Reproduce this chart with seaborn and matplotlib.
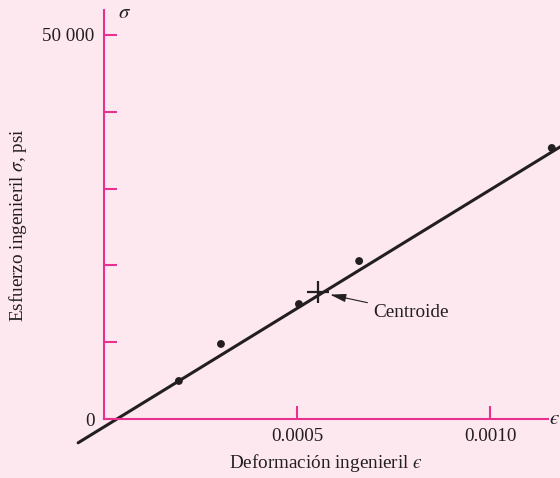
import matplotlib
matplotlib.use("Agg")
import matplotlib.pyplot as plt
import seaborn as sns
import pandas as pd

# strain / stress readings (psi)
strain = [0.000194, 0.000303, 0.000505, 0.000661, 0.00116]
stress = [4950, 9770, 14970, 20570, 35290]

# least-squares line, drawn past both ends
fit_strain = [-0.000067, 0.00120]
fit_stress = [-3100, 36000]

centroid_strain = [0.000554]
centroid_stress = [16540]

y_ticks = [0, 10000, 20000, 30000, 40000, 50000]
y_tick_labels = ["0", "", "", "", "", "50 000"]
x_ticks = [0.0005, 0.0010]
x_tick_labels = ["0.0005", "0.0010"]

BG = "#fde8f0"
AXIS = "#e8308f"
INK = "#231f20"
FS = 13.8

sns.set_theme(style="white")
plt.rcParams["font.family"] = ["Liberation Serif", "DejaVu Serif"]
plt.rcParams["mathtext.fontset"] = "stix"
plt.rcParams["text.color"] = INK

df = pd.DataFrame({"strain": strain, "stress": stress})
fit = pd.DataFrame({"strain": fit_strain, "stress": fit_stress})

fig = plt.figure(figsize=(5.6, 4.78), dpi=100, facecolor=BG)
ax = fig.add_axes([0, 0, 1, 1], facecolor=BG)

sns.lineplot(data=fit, x="strain", y="stress", color=INK, lw=2.2, sort=False, ax=ax)
sns.scatterplot(data=df, x="strain", y="stress", color=INK, s=32, edgecolor="none", ax=ax, zorder=3)
ax.plot(centroid_strain, centroid_stress, marker="+", ms=16, mew=1.6, color=INK, ls="none", zorder=4)

ax.annotate("Centroide", xy=(centroid_strain[0], centroid_stress[0]),
            xytext=(40, -14.5), textcoords="offset points",
            ha="left", va="center", fontsize=FS, color=INK,
            arrowprops=dict(arrowstyle="-|>,head_length=0.7,head_width=0.18",
                            color=INK, lw=0.8, shrinkA=2, shrinkB=9))

# pixel layout: origin at (104, 419), 0.0005 per 193 px, 10 000 per 76.8 px
ax.set_xlim(-0.0002694, 0.0011813)
ax.set_ylim(-7682, 54557)

for side in ("top", "right"):
    ax.spines[side].set_visible(False)
for side in ("left", "bottom"):
    ax.spines[side].set_position(("data", 0))
    ax.spines[side].set_color(AXIS)
    ax.spines[side].set_linewidth(1.5)
ax.spines["left"].set_bounds(0, 53250)
ax.spines["bottom"].set_bounds(0, 0.00115)

ax.set_yticks(y_ticks)
ax.set_yticklabels(y_tick_labels)
ax.set_xticks(x_ticks)
ax.set_xticklabels(x_tick_labels)
ax.tick_params(axis="both", direction="in", length=9.5, width=1.5, color=AXIS,
               labelsize=FS, labelcolor=INK, pad=6.5, left=True, bottom=True)
ax.tick_params(axis="y", pad=7)
ax.set_xlabel("")
ax.set_ylabel("")

fig.text(125 / 560, 1 - 13 / 478, r"$\sigma$", fontsize=15, ha="center", va="center")
fig.text(549 / 560, 1 - 419 / 478, "$\u03f5$", fontsize=15, ha="left", va="center")
fig.text(326 / 560, 1 - 463 / 478, "Deformación ingenieril $\u03f5$",
         fontsize=FS, ha="center", va="center")
fig.text(18 / 560, 1 - 225 / 478, r"Esfuerzo ingenieril $\sigma$, psi",
         fontsize=FS, ha="center", va="center", rotation=90)

fig.savefig("out.png", dpi=100, facecolor=BG)
